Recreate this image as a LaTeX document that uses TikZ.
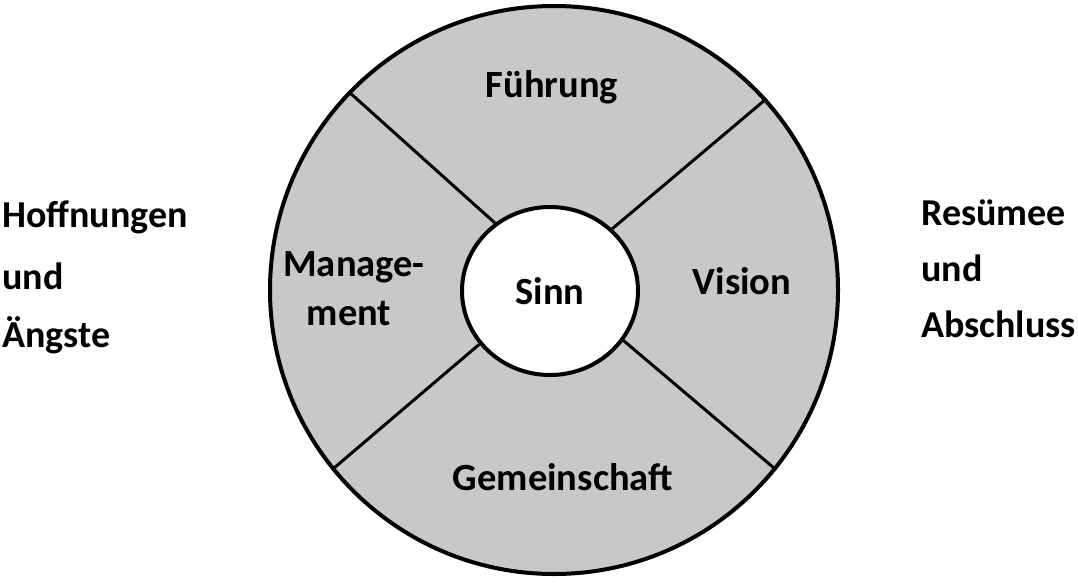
\documentclass[tikz,border=0pt]{standalone}
\usepackage{fontspec}
\setmainfont{Carlito}
\usetikzlibrary{shapes.geometric}
\definecolor{segfill}{RGB}{200,200,200}
\begin{document}
\begin{tikzpicture}[x=1pt,y=-1pt,
  lbl/.style={font=\bfseries\fontsize{38.5}{44}\selectfont, inner sep=0pt, anchor=base},
  side/.style={font=\bfseries\fontsize{38}{44}\selectfont, inner sep=0pt, anchor=base west},
  spoke/.style={line width=3pt}]
\useasboundingbox (0,0) rectangle (1078,586);
\node[circle, draw, line width=4pt, fill=segfill, minimum size=568pt, inner sep=0pt] (wheel) at (554,290) {};
\node[ellipse, draw, line width=4pt, fill=white, minimum width=176pt, minimum height=168pt, inner sep=0pt,
      font=\bfseries\fontsize{38.5}{44}\selectfont] (sinn) at (550,291) {Sinn};
\draw[spoke] (wheel.136.6) -- (sinn.129);
\draw[spoke] (wheel.42.6) -- (sinn.45.8);
\draw[spoke] (wheel.219.5) -- (sinn.217);
\draw[spoke] (wheel.321.2) -- (sinn.326.6);
\node[lbl] (fuehrung) at (552,97) {Führung};
\node[lbl] (vision) at (742,294) {Vision};
\node[lbl] (manage) at (354,276) {Manage-};
\node[lbl] (ment) at (349,325) {ment};
\node[lbl] (gemein) at (563,490) {Gemeinschaft};
\node[side] (l1) at (2,227) {Hoffnungen};
\node[side] (l2) at (2,289) {und};
\node[side] (l3) at (2,347) {Ängste};
\node[side] (r1) at (921,225) {Resümee};
\node[side] (r2) at (921,281) {und};
\node[side] (r3) at (921,337) {Abschluss};
\end{tikzpicture}
\end{document}
